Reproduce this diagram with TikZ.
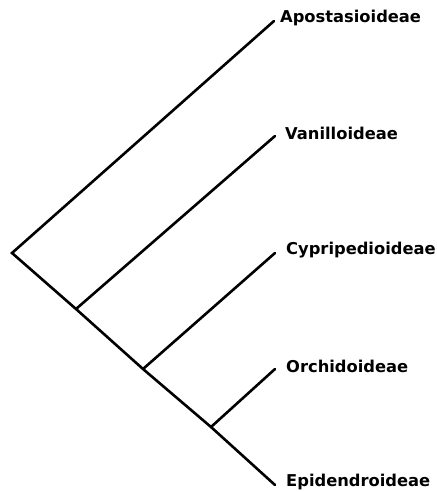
\documentclass[tikz,border=0pt]{standalone}
\usepackage{fontspec}
\setmainfont{DejaVu Sans}
\usetikzlibrary{positioning}
\tikzstyle{branch} = [line width=2.6pt, draw=black, line cap=round]
\tikzstyle{taxon} = [inner sep=0pt, font=\fontsize{16.3}{19}\selectfont\bfseries, text=black, anchor=west]

\begin{document}
\begin{tikzpicture}[x=1pt, y=-1pt]
    \useasboundingbox (0,0) rectangle (436,492);
    % junctions
    \coordinate (root) at (12,253);
    \coordinate (j1) at (76,309);
    \coordinate (j2) at (143,369);
    \coordinate (j3) at (211,427);
    % tips
    \coordinate (tApo) at (274,21);
    \coordinate (tVan) at (275,136);
    \coordinate (tCyp) at (275,253);
    \coordinate (tOrc) at (275,369);
    \coordinate (tEpi) at (275,485);

    \node (apo) [taxon, right=6pt of tApo, yshift=3pt] {Apostasioideae};
    \node (van) [taxon, right=10pt of tVan, yshift=3pt] {Vanilloideae};
    \node (cyp) [taxon, right=11pt of tCyp, yshift=3pt] {Cypripedioideae};
    \node (orc) [taxon, right=11pt of tOrc, yshift=3pt] {Orchidoideae};
    \node (epi) [taxon, right=11pt of tEpi, yshift=3pt] {Epidendroideae};

    \draw [branch] (tApo) -- (root) -- (j1) -- (j2) -- (j3) -- (tEpi);
    \draw [branch] (j1) -- (tVan);
    \draw [branch] (j2) -- (tCyp);
    \draw [branch] (j3) -- (tOrc);
\end{tikzpicture}
\end{document}
